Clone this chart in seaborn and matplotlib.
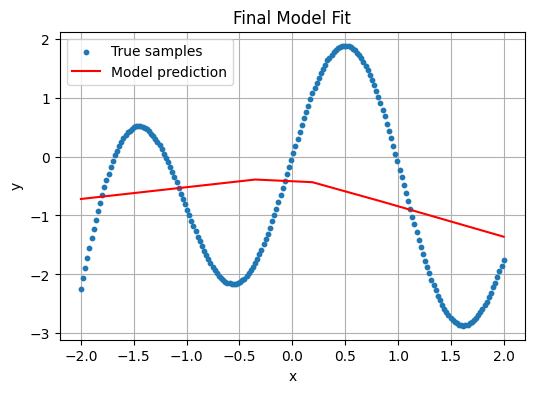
import numpy as np
import pandas as pd
import matplotlib
matplotlib.use("Agg")
import matplotlib.pyplot as plt
import seaborn as sns

# True samples (200 evenly spaced x from -2 to 2), y values
x_start, x_end = -2.0, 2.0
true_y = [
    -2.24, -2.06, -1.89, -1.72, -1.55, -1.39, -1.23, -1.08, -0.93, -0.79,
    -0.65, -0.52, -0.40, -0.29, -0.18, -0.08, 0.02, 0.10, 0.18, 0.25,
    0.31, 0.36, 0.41, 0.44, 0.47, 0.50, 0.51, 0.51, 0.51, 0.50,
    0.49, 0.46, 0.43, 0.39, 0.35, 0.30, 0.25, 0.19, 0.12, 0.05,
    -0.02, -0.10, -0.18, -0.27, -0.35, -0.44, -0.53, -0.63, -0.72, -0.81,
    -0.91, -1.00, -1.09, -1.18, -1.27, -1.36, -1.44, -1.52, -1.60, -1.67,
    -1.74, -1.81, -1.87, -1.93, -1.98, -2.02, -2.06, -2.09, -2.12, -2.14,
    -2.15, -2.16, -2.16, -2.16, -2.14, -2.12, -2.10, -2.07, -2.03, -1.98,
    -1.93, -1.87, -1.81, -1.74, -1.66, -1.58, -1.49, -1.40, -1.31, -1.21,
    -1.10, -1.00, -0.89, -0.77, -0.66, -0.54, -0.42, -0.30, -0.18, -0.06,
    0.06, 0.18, 0.30, 0.42, 0.53, 0.65, 0.76, 0.86, 0.97, 1.07,
    1.16, 1.25, 1.34, 1.42, 1.49, 1.56, 1.63, 1.68, 1.73, 1.78,
    1.81, 1.84, 1.86, 1.88, 1.88, 1.88, 1.87, 1.86, 1.83, 1.80,
    1.76, 1.72, 1.67, 1.61, 1.54, 1.47, 1.39, 1.30, 1.21, 1.11,
    1.01, 0.90, 0.79, 0.68, 0.56, 0.43, 0.31, 0.18, 0.05, -0.08,
    -0.22, -0.35, -0.49, -0.62, -0.76, -0.89, -1.02, -1.15, -1.28, -1.41,
    -1.53, -1.65, -1.77, -1.88, -1.98, -2.09, -2.18, -2.27, -2.36, -2.44,
    -2.51, -2.58, -2.64, -2.69, -2.74, -2.78, -2.81, -2.83, -2.85, -2.86,
    -2.87, -2.86, -2.85, -2.83, -2.81, -2.78, -2.74, -2.69, -2.64, -2.59,
    -2.52, -2.46, -2.38, -2.31, -2.22, -2.14, -2.05, -1.95, -1.86, -1.76,
]
true_x = np.linspace(x_start, x_end, len(true_y))

# Model prediction (piecewise linear), vertices
pred_x = [-2.0, -0.35, 0.19, 0.85, 2.0]
pred_y = [-0.72, -0.39, -0.435, -0.765, -1.36]

samples = pd.DataFrame({"x": true_x, "y": true_y})
pred = pd.DataFrame({"x": pred_x, "y": pred_y})

fig, ax = plt.subplots(figsize=(6, 4), dpi=100)
sns.scatterplot(data=samples, x="x", y="y", ax=ax, s=10, color="#1f77b4",
                edgecolor="#1f77b4", linewidth=1.0, label="True samples", zorder=3)
sns.lineplot(data=pred, x="x", y="y", ax=ax, color="red", linewidth=1.5,
             label="Model prediction", zorder=4)

ax.set_title("Final Model Fit")
ax.set_xlabel("x")
ax.set_ylabel("y")
ax.grid(True)
ax.set_axisbelow(True)
ax.legend(loc="upper left")

fig.savefig("out.png", dpi=100, bbox_inches="tight")
